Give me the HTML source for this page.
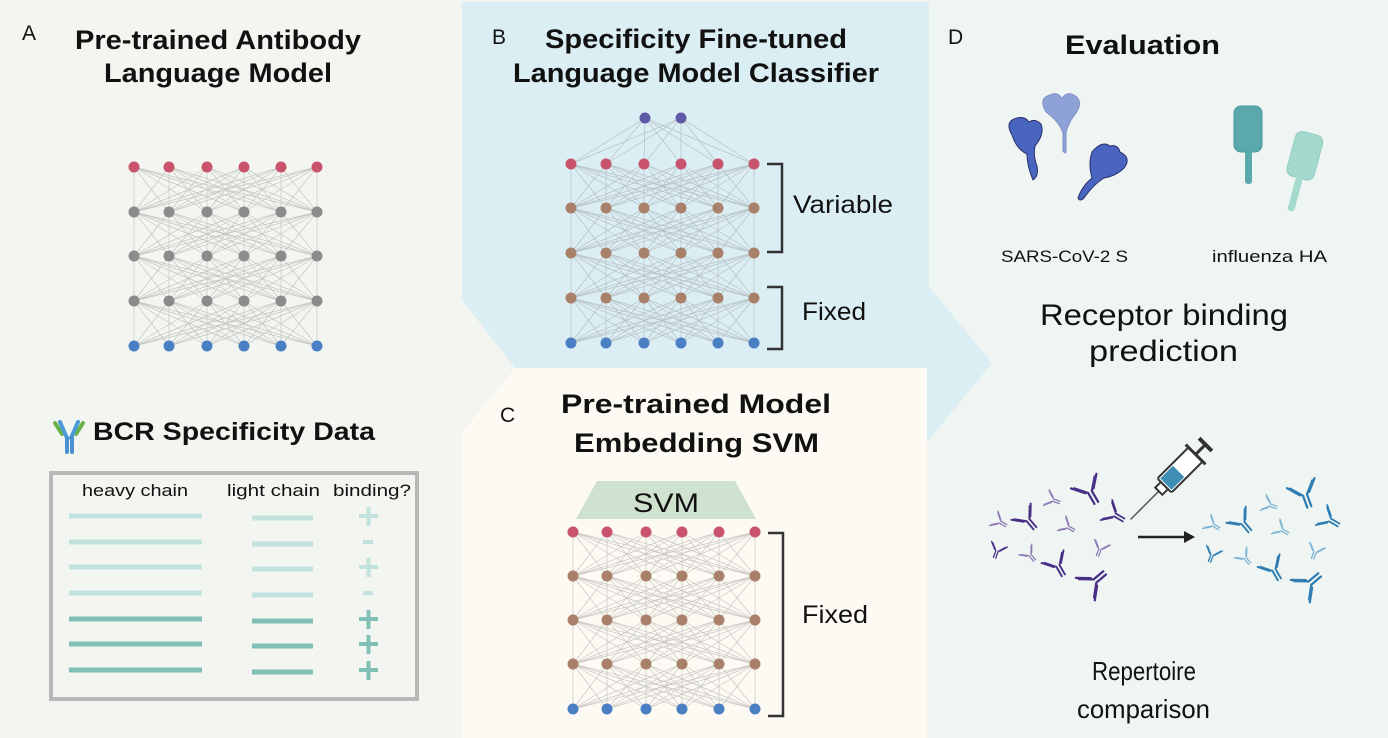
<!DOCTYPE html>
<html><head><meta charset="utf-8"><style>
html,body{margin:0;padding:0;background:#f3f6f0}
svg{display:block}
text{font-family:"Liberation Sans",sans-serif;fill:#111}
.t{font-weight:bold;font-size:27px}
</style></head><body>
<svg id="s" width="1388" height="738" viewBox="0 0 1388 738" xmlns="http://www.w3.org/2000/svg">
<rect x="0" y="0" width="1388" height="738" fill="#f3f6f0"/>
<rect x="929" y="0" width="459" height="738" fill="#eef5f3"/>
<polygon points="462,2 929,2 929,287 992,363 927,442 462,442" fill="#dbeef4"/>
<polygon points="462,300 515,368 462,432" fill="#f3f6f0"/>
<polygon points="515,368 927,368 927,738 462,738 462,432" fill="#fcfaf3"/>
<g id="edges" stroke="#8a8a8a" stroke-width="0.7" opacity="0.45"></g>
<g id="nodes"></g>
<g id="abs"></g>

<!-- A -->
<text x="22" y="40" font-size="21">A</text>
<text class="t" x="75" y="49" textLength="286" lengthAdjust="spacingAndGlyphs">Pre-trained Antibody</text>
<text class="t" x="104" y="82" textLength="228" lengthAdjust="spacingAndGlyphs">Language Model</text>

<!-- BCR -->
<g stroke-linecap="round">
<line x1="62" y1="434" x2="55" y2="423" stroke="#6cb24a" stroke-width="4"/>
<line x1="67" y1="438" x2="60" y2="422" stroke="#4a9ad8" stroke-width="4"/>
<line x1="76" y1="434" x2="83" y2="423" stroke="#6cb24a" stroke-width="4"/>
<line x1="71" y1="438" x2="78" y2="422" stroke="#4a9ad8" stroke-width="4"/>
<line x1="67" y1="438" x2="67" y2="452" stroke="#4a8fd0" stroke-width="4"/>
<line x1="72" y1="438" x2="72" y2="452" stroke="#4a8fd0" stroke-width="4"/>
</g>
<text x="93" y="440" font-weight="bold" font-size="25" textLength="282" lengthAdjust="spacingAndGlyphs">BCR Specificity Data</text>
<rect x="51" y="473" width="366" height="226" fill="none" stroke="#b8b8b8" stroke-width="4"/>
<text x="82" y="496" font-size="17" textLength="106" lengthAdjust="spacingAndGlyphs">heavy chain</text>
<text x="227" y="496" font-size="17" textLength="93" lengthAdjust="spacingAndGlyphs">light chain</text>
<text x="333" y="496" font-size="17" textLength="78" lengthAdjust="spacingAndGlyphs">binding?</text>
<g stroke-width="5">
<line x1="69" x2="202" y1="516" y2="516" stroke="#c2e2de"/><line x1="252" x2="313" y1="518" y2="518" stroke="#c2e2de"/>
<line x1="69" x2="202" y1="542" y2="542" stroke="#c2e2de"/><line x1="252" x2="313" y1="544" y2="544" stroke="#c2e2de"/>
<line x1="69" x2="202" y1="567" y2="567" stroke="#c2e2de"/><line x1="252" x2="313" y1="569" y2="569" stroke="#c2e2de"/>
<line x1="69" x2="202" y1="593" y2="593" stroke="#c2e2de"/><line x1="252" x2="313" y1="595" y2="595" stroke="#c2e2de"/>
<line x1="69" x2="202" y1="619" y2="619" stroke="#80bfb5"/><line x1="252" x2="313" y1="621" y2="621" stroke="#80bfb5"/>
<line x1="69" x2="202" y1="644" y2="644" stroke="#80bfb5"/><line x1="252" x2="313" y1="646" y2="646" stroke="#80bfb5"/>
<line x1="69" x2="202" y1="670" y2="670" stroke="#80bfb5"/><line x1="252" x2="313" y1="672" y2="672" stroke="#80bfb5"/>
</g>
<g stroke-width="4">
<path d="M359 516h19M368.5 507v19" stroke="#c2e2de"/>
<path d="M363 542h10" stroke="#c2e2de"/>
<path d="M359 567h19M368.5 558v19" stroke="#c2e2de"/>
<path d="M363 593h10" stroke="#c2e2de"/>
<path d="M359 619h19M368.5 610v19" stroke="#80bfb5"/>
<path d="M359 644h19M368.5 635v19" stroke="#80bfb5"/>
<path d="M359 670h19M368.5 661v19" stroke="#80bfb5"/>
</g>

<!-- B -->
<text x="492" y="44" font-size="21">B</text>
<text class="t" x="545" y="48" textLength="302" lengthAdjust="spacingAndGlyphs">Specificity Fine-tuned</text>
<text class="t" x="513" y="82" textLength="366" lengthAdjust="spacingAndGlyphs">Language Model Classifier</text>
<path d="M767 164h15v88h-15M767 287h15v62h-15" fill="none" stroke="#333" stroke-width="2.5"/>
<text x="793" y="213" font-size="25" textLength="100" lengthAdjust="spacingAndGlyphs">Variable</text>
<text x="802" y="320" font-size="25" textLength="64" lengthAdjust="spacingAndGlyphs">Fixed</text>

<!-- C -->
<text x="500" y="422" font-size="21">C</text>
<text class="t" x="561" y="413" textLength="270" lengthAdjust="spacingAndGlyphs">Pre-trained Model</text>
<text class="t" x="574" y="452" textLength="245" lengthAdjust="spacingAndGlyphs">Embedding SVM</text>
<polygon points="597,481 735,481 756,519 576,519" fill="#cfe1cf"/>
<text x="633" y="512" font-size="27" textLength="66" lengthAdjust="spacingAndGlyphs">SVM</text>
<path d="M768 533h15v183h-15" fill="none" stroke="#333" stroke-width="2.5"/>
<text x="802" y="623" font-size="25" textLength="66" lengthAdjust="spacingAndGlyphs">Fixed</text>

<!-- D -->
<text x="948" y="44" font-size="21">D</text>
<text class="t" x="1065" y="54" textLength="155" lengthAdjust="spacingAndGlyphs">Evaluation</text>
<g stroke="#2a2f6a" stroke-width="1">
<path d="M1046 112 q-8 -14 4 -17 q8 -4 12 4 q4 -8 12 -4 q10 6 2 18 q-8 10 -10 20 v18 q0 4 -3 0 v-18 q-4 -12 -17 -21z" fill="#8fa2d8" stroke="#7d8fc6"/>
<path d="M1012 135 q-8 -14 5 -17 q8 -2 12 4 q6 -4 12 2 q4 10 -6 22 q-2 10 2 20 q2 10 -4 14 q-6 -14 -6 -26 q-10 -4 -15 -19z" fill="#4a65c0"/>
<path d="M1092 152 q10 -12 18 -6 q8 -2 10 6 q12 6 4 16 q-8 8 -20 10 q-10 6 -20 20 q-4 4 -6 0 q4 -12 14 -20 q-4 -14 0 -26z" fill="#4a65c0"/>
</g>
<g>
<rect x="1234" y="106" width="28" height="46" rx="7" fill="#5aa9ad" stroke="#4a999d"/>
<rect x="1245" y="150" width="7" height="34" rx="3" fill="#5aa9ad"/>
<g transform="rotate(15 1300 170)">
<rect x="1287" y="132" width="28" height="46" rx="7" fill="#a4d9cd" stroke="#93cbbf"/>
<rect x="1298" y="176" width="7" height="36" rx="3" fill="#a4d9cd"/>
</g>
</g>
<text x="1001" y="262" font-size="17" textLength="127" lengthAdjust="spacingAndGlyphs">SARS-CoV-2 S</text>
<text x="1212" y="262" font-size="17" textLength="115" lengthAdjust="spacingAndGlyphs">influenza HA</text>
<text x="1040" y="325" font-size="30" textLength="248" lengthAdjust="spacingAndGlyphs">Receptor binding</text>
<text x="1089" y="361" font-size="30" textLength="149" lengthAdjust="spacingAndGlyphs">prediction</text>
<g transform="rotate(-45 1180 470)">
<line x1="1110" y1="470" x2="1150" y2="470" stroke="#555" stroke-width="1.5"/>
<rect x="1150" y="465" width="8" height="10" fill="#fff" stroke="#333" stroke-width="2"/>
<rect x="1158" y="460" width="44" height="20" rx="2" fill="#fff" stroke="#333" stroke-width="2"/>
<rect x="1160" y="462" width="18" height="16" fill="#3f8fb5"/>
<line x1="1202" y1="470" x2="1216" y2="470" stroke="#333" stroke-width="3"/>
<line x1="1216" y1="461" x2="1216" y2="479" stroke="#333" stroke-width="4"/>
<line x1="1202" y1="456" x2="1202" y2="484" stroke="#333" stroke-width="3"/>
</g>
<path d="M1138 537h48" stroke="#222" stroke-width="2.5"/>
<polygon points="1184,531 1184,543 1195,537" fill="#222"/>
<text x="1092" y="680" font-size="26" textLength="104" lengthAdjust="spacingAndGlyphs">Repertoire</text>
<text x="1077" y="718" font-size="26" textLength="133" lengthAdjust="spacingAndGlyphs">comparison</text>
</svg>
<script>
var NS="http://www.w3.org/2000/svg";
function el(p,t,a){var e=document.createElementNS(NS,t);for(var k in a)e.setAttribute(k,a[k]);p.appendChild(e);return e;}
var E=document.getElementById('edges'),N=document.getElementById('nodes');
function net(cols,rows,colors,top){
  var layers=rows.map(function(y){return cols.map(function(x){return [x,y];});});
  if(top)layers.unshift(top);
  for(var i=0;i<layers.length-1;i++)layers[i].forEach(function(a){layers[i+1].forEach(function(b){el(E,'line',{x1:a[0],y1:a[1],x2:b[0],y2:b[1]});});});
  layers.forEach(function(L,i){L.forEach(function(p){el(N,'circle',{cx:p[0],cy:p[1],r:5.5,fill:colors[i]});});});
}
var R='#c9536d',G='#8b8b8b',Bl='#4a7fc4',Br='#a9806a',P='#5e5aa6';
net([134,169,207,244,281,317],[167,212,256,301,346],[R,G,G,G,Bl]);
net([571,606,644,681,718,754],[164,208,253,298,343],[P,R,Br,Br,Br,Bl],[[645,118],[681,118]]);
net([573,607,646,682,719,755],[532,576,620,664,709],[R,Br,Br,Br,Bl]);
var A=document.getElementById('abs');
function ab(x,y,s,rot,c){
  var g=el(A,'g',{transform:'translate('+x+' '+y+') rotate('+rot+') scale('+s+')',stroke:c,'stroke-width':1.6,fill:'none','stroke-linecap':'round'});
  el(g,'path',{d:'M-1.5 0v9M1.5 0v9M-1.5 0l-7 -8M-3.5 -1l-7 -8M1.5 0l7 -8M3.5 -1l7 -8'});
}
var L1='#8f7ab5',D1='#4a2f86',L2='#7fb4d4',D2='#2f7db3';
[[1000,522,.8,-60,L1],[1028,520,1.2,-40,D1],[1053,500,.8,-70,L1],[1090,492,1.4,-30,D1],[1115,515,1.1,-60,D1],
[997,551,.8,20,D1],[1030,555,.8,-40,L1],[1058,566,1.2,-30,D1],[1068,527,.8,-60,L1],[1100,549,.8,20,L1],[1095,581,1.4,-130,D1],
[1213,525,.8,-60,L2],[1243,523,1.2,-40,D2],[1270,505,.8,-70,L2],[1305,495,1.4,-20,D2],[1330,520,1.1,-60,D2],
[1212,555,.8,20,D2],[1245,558,.8,-40,L2],[1274,570,1.2,-30,D2],[1282,530,.8,-60,L2],[1315,552,.8,20,L2],[1310,583,1.4,-130,D2]
].forEach(function(a){ab.apply(null,a);});
</script>
</body></html>
